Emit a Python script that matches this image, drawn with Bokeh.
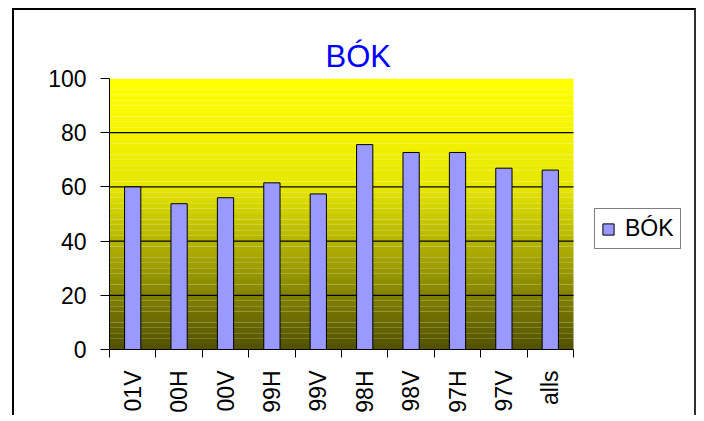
import math
from bokeh.plotting import figure
from bokeh.models import (Range1d, FixedTicker, BoxAnnotation, Legend, LegendItem,
                          ColumnDataSource, Title)
from bokeh.embed import file_html
from bokeh.resources import INLINE

# ---- data ----
categories = ["01V", "00H", "00V", "99H", "99V", "98H", "98V", "97H", "97V", "alls"]
values = [60.0, 53.8, 56.0, 61.5, 57.4, 75.6, 72.7, 72.7, 66.9, 66.2]
series_name = "BÓK"
y_ticks = [0, 20, 40, 60, 80, 100]
grid_ticks = [20, 40, 60, 80]

FONT = "Liberation Sans"
N = len(categories)

# layout (pixels)
W, H = 684, 407
LEFT, RIGHT, TOP, BOTTOM = 95, 5, 68, 68
PLOT_W = 464                      # width of the category area
frame_w = W - LEFT - RIGHT
x_end = N * frame_w / PLOT_W      # frame extends right to hold the legend

positions = [i + 0.5 for i in range(N)]
src = ColumnDataSource(dict(x=positions, top=values, cat=categories))

p = figure(width=W, height=H, output_backend="svg", toolbar_location=None,
           x_range=Range1d(0, x_end), y_range=Range1d(0, 100),
           min_border_left=LEFT, min_border_right=RIGHT, min_border_top=TOP,
           min_border_bottom=BOTTOM)
p.styles = {"border-top": "2px solid black", "border-left": "2px solid black",
            "border-right": "2px solid #303030", "margin-left": "12px",
            "margin-top": "8px"}
p.outline_line_color = None
p.background_fill_color = "white"
p.border_fill_color = "white"

# gradient background over the category area (style only)
def shade(v):
    if v >= 60:
        b = 230 + 0.65 * (v - 60)
    else:
        b = 80 + 2.5 * v
    b = int(round(min(255, b)))
    return "#%02x%02x00" % (b, b)

step = 2
for lo in range(0, 100, step):
    p.add_layout(BoxAnnotation(left=0, right=N, bottom=lo, top=lo + step,
                               fill_color=shade(lo + step / 2), fill_alpha=1.0,
                               line_color=None, level="image"))

# grid lines limited to the category area
p.xgrid.visible = False
p.ygrid.visible = False
p.segment(x0=[0] * len(grid_ticks), x1=[N] * len(grid_ticks), y0=grid_ticks, y1=grid_ticks,
          line_color="black", line_width=1.2, level="underlay")

bars = p.vbar(x="x", top="top", width=0.35, bottom=0, source=src,
              fill_color="#9999ff", line_color="black", line_width=1)

# title
p.title = Title(text=series_name, align="left", offset=216, text_color="#0000ff",
                text_font=FONT, text_font_size="31px", text_font_style="normal")

# y axis
ya = p.yaxis[0]
ya.ticker = FixedTicker(ticks=y_ticks)
ya.major_tick_out = 9
ya.major_tick_in = 0
ya.minor_tick_line_color = None
ya.axis_line_color = "black"
ya.major_tick_line_color = "black"
ya.major_label_text_font = FONT
ya.major_label_text_font_size = "23px"
ya.major_label_text_color = "black"
ya.major_label_standoff = 14

# x axis
xa = p.xaxis[0]
xa.bounds = (0, N)
xa.ticker = FixedTicker(ticks=positions, minor_ticks=list(range(N + 1)))
xa.major_label_overrides = {pos: c for pos, c in zip(positions, categories)}
xa.major_tick_out = 0
xa.major_tick_in = 0
xa.minor_tick_out = 8
xa.minor_tick_in = 0
xa.minor_tick_line_color = "black"
xa.axis_line_color = "black"
xa.major_label_orientation = math.pi / 2
xa.major_label_text_font = FONT
xa.major_label_text_font_size = "23px"
xa.major_label_text_color = "black"
xa.major_label_standoff = 13

# legend
legend = Legend(items=[LegendItem(label=series_name, renderers=[bars])],
                location=(485, 100), orientation="vertical",
                border_line_color="black", border_line_width=1.5,
                background_fill_color="white", background_fill_alpha=1.0,
                label_text_font=FONT, label_text_font_size="23px",
                label_text_color="black",
                glyph_width=14, glyph_height=14, label_standoff=10,
                padding=6, margin=0, spacing=0, label_height=20)
p.add_layout(legend, "center")

open("out.html", "w").write(file_html(p, INLINE))
